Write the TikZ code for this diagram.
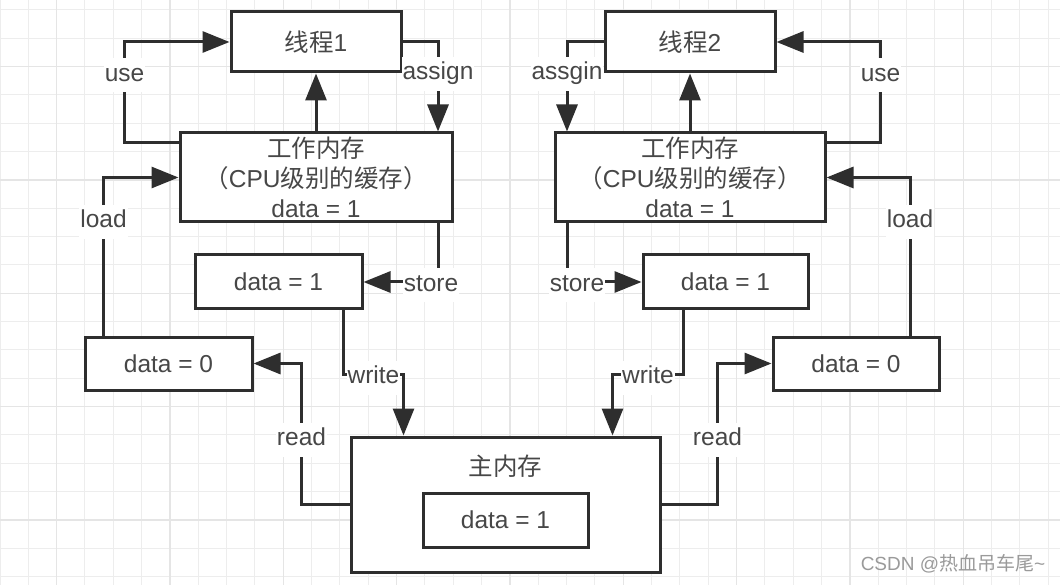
\documentclass[tikz,border=0pt]{standalone}
\usepackage{fontspec}
\setmainfont{Liberation Sans}
\newfontfamily\cjk{Noto Sans CJK SC}
\usetikzlibrary{arrows.meta}
\definecolor{ink}{HTML}{2E2E2E}
\definecolor{txt}{HTML}{474747}
\definecolor{gridfine}{HTML}{EDEDED}
\definecolor{gridbold}{HTML}{E5E5E5}
\definecolor{wmark}{HTML}{9A9A9A}

\begin{document}
\begin{tikzpicture}[x=1pt,y=-1pt,
        box/.style={draw=ink,line width=3pt,fill=white,text=txt,align=center,inner ysep=1pt,
            font=\fontsize{24.5}{30}\selectfont},
        conn/.style={ink,line width=3pt,-{Triangle[length=27pt,width=21pt]}},
        lbl/.style={fill=white,text=txt,inner xsep=1pt,inner ysep=5pt,text height=18pt,text depth=6pt,
            yshift=-3pt,font=\fontsize{24.5}{29}\selectfont}]
        \fill[white] (0,0) rectangle (1060,585);
        \useasboundingbox (0,0) rectangle (1060,585);
        \foreach \i in {0,...,37} {
            \draw[gridfine,line width=1pt] (28.33*\i,0) -- (28.33*\i,585);
        }
        \foreach \j in {0,...,20} {
            \draw[gridfine,line width=1pt] (0,10+28.33*\j) -- (1060,10+28.33*\j);
        }
        \foreach \i in {2,6,...,34} {
            \draw[gridbold,line width=1.3pt] (28.33*\i,0) -- (28.33*\i,585);
        }
        \foreach \j in {2,6,...,18} {
            \draw[gridbold,line width=1.3pt] (0,10+28.33*\j) -- (1060,10+28.33*\j);
        }

        \node[box,minimum width=170pt,minimum height=60pt] (t1) at (316,42) {{\cjk 线程}1};
        \node[box,minimum width=170pt,minimum height=60pt] (t2) at (690,42) {{\cjk 线程}2};
        \node[box,minimum width=272pt,minimum height=89pt] (w1) at (316,177.5)
            {{\cjk 工作内存}\\{\cjk （}CPU{\cjk 级别的缓存）}\\data = 1};
        \node[box,minimum width=270pt,minimum height=89pt] (w2) at (690,177.5)
            {{\cjk 工作内存}\\{\cjk （}CPU{\cjk 级别的缓存）}\\data = 1};
        \node[box,minimum width=167pt,minimum height=54pt] (c1) at (278.5,282) {data = 1};
        \node[box,minimum width=165pt,minimum height=54pt] (c2) at (725.5,282) {data = 1};
        \node[box,minimum width=167pt,minimum height=53pt] (z1) at (168.5,363.5) {data = 0};
        \node[box,minimum width=166pt,minimum height=53pt] (z2) at (856,363.5) {data = 0};
        \node[box,minimum width=309pt,minimum height=135pt] (m) at (505.5,504.5) {};
        \node[text=txt,font=\fontsize{24.5}{29}\selectfont\cjk] (mt) at (505.5,466) {主内存};
        \node[box,minimum width=165pt,minimum height=54pt] (md) at (505.5,520) {data = 1};

        \draw[conn] (w1.north) -- (t1.south);
        \draw[conn] (w2.north) -- (t2.south);
        \draw[conn] ([yshift=-11pt]w1.north west) -- ++(-54,0) |- node[lbl,pos=.35]{use} (t1.west);
        \draw[conn] ([yshift=-11pt]w2.north east) -- ++(54,0) |- node[lbl,pos=.35]{use} (t2.east);
        \draw[conn] (t1.east) -| node[lbl,pos=.66]{assign} ([xshift=122pt]w1.north);
        \draw[conn] (t2.west) -| node[lbl,pos=.66]{assgin} ([xshift=-123pt]w2.north);
        \draw[conn] ([xshift=-65pt]z1.north) |- node[lbl,pos=.37]{load} (w1.west);
        \draw[conn] ([xshift=54pt]z2.north) |- node[lbl,pos=.37]{load} (w2.east);
        \draw[conn] ([xshift=122pt]w1.south) |- node[lbl,xshift=-7pt]{store} (c1.east);
        \draw[conn] ([xshift=-123pt]w2.south) |- node[lbl,xshift=10pt]{store} (c2.west);
        \draw[conn] ([xshift=65pt]c1.south) -- ++(0,64) -| node[lbl,pos=.25]{write} ([xshift=-102pt]m.north);
        \draw[conn] ([xshift=-42pt]c2.south) -- ++(0,64) -| node[lbl,pos=.25]{write} ([xshift=107pt]m.north);
        \draw[conn] (m.west) -- ++(-48,0) |- node[lbl,pos=.24]{read} (z1.east);
        \draw[conn] (m.east) -- ++(56,0) |- node[lbl,pos=.24]{read} (z2.west);

        \node[text=wmark,font=\fontsize{19}{22}\selectfont] (wm) at (953,564) {CSDN @{\cjk 热血吊车尾}\textasciitilde};
    \end{tikzpicture}
\end{document}
